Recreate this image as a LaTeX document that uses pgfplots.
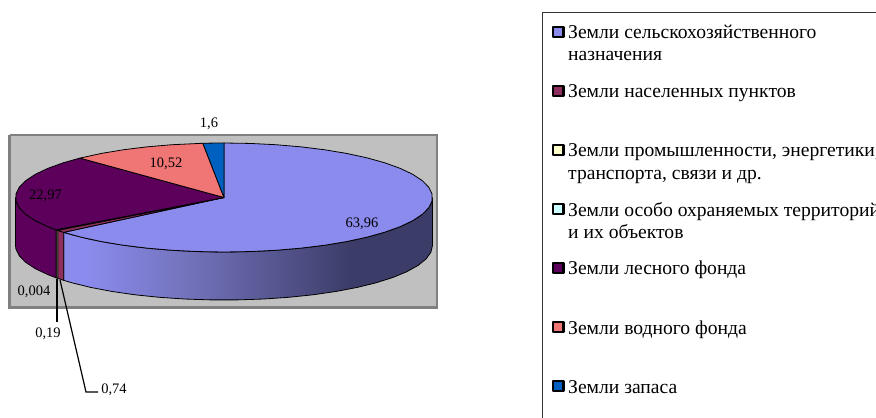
\documentclass[border=0pt]{standalone}
\usepackage{pgfplots}
\usepackage{pgfplotstable}
\usepackage{fontspec}
\setmainfont{Liberation Serif}
\pgfplotsset{compat=1.18}
\definecolor{agri}{HTML}{8B8BEE}
\definecolor{town}{HTML}{8F2F60}
\definecolor{indu}{HTML}{FFFFCC}
\definecolor{prot}{HTML}{CCFFFF}
\definecolor{wood}{HTML}{5C005C}
\definecolor{water}{HTML}{F07575}
\definecolor{resv}{HTML}{0060C0}
\definecolor{gbg}{HTML}{C0C0C0}
\definecolor{gbd}{HTML}{808080}
\definecolor{wa}{HTML}{8B8BEE}
\definecolor{wb}{HTML}{7272BB}
\definecolor{wc}{HTML}{55558F}
\definecolor{wd}{HTML}{3C3C68}
\pgfdeclarehorizontalshading{wallgrad}{100bp}{color(0bp)=(wa);color(28bp)=(wa);color(42bp)=(wb);color(54bp)=(wc);color(64bp)=(wd);color(100bp)=(wd)}
% p = cumulative percent of the pie, r = 0 centre / 1 rim, z = 0 top face / 1 bottom rim
\pgfplotstableread[row sep=\\]{p r z\\ 0 0 0\\ 0 1 0\\ 2 1 0\\ 4 1 0\\ 6 1 0\\ 8 1 0\\ 10 1 0\\ 12 1 0\\ 14 1 0\\ 16 1 0\\ 18 1 0\\ 20 1 0\\ 22 1 0\\ 24 1 0\\ 26 1 0\\ 28 1 0\\ 30 1 0\\ 32 1 0\\ 34 1 0\\ 36 1 0\\ 38 1 0\\ 40 1 0\\ 42 1 0\\ 44 1 0\\ 46 1 0\\ 48 1 0\\ 50 1 0\\ 52 1 0\\ 54 1 0\\ 56 1 0\\ 58 1 0\\ 60 1 0\\ 62 1 0\\ 63.96 1 0\\ 63.96 0 0\\ 0 0 0\\}\topA
\pgfplotstableread[row sep=\\]{p r z\\ 63.96 0 0\\ 63.96 1 0\\ 64.70 1 0\\ 64.70 0 0\\ 63.96 0 0\\}\topB
\pgfplotstableread[row sep=\\]{p r z\\ 64.70 0 0\\ 64.70 1 0\\ 64.89 1 0\\ 64.89 0 0\\ 64.70 0 0\\}\topC
\pgfplotstableread[row sep=\\]{p r z\\ 64.89 0 0\\ 64.89 1 0\\ 64.894 1 0\\ 64.894 0 0\\ 64.89 0 0\\}\topD
\pgfplotstableread[row sep=\\]{p r z\\ 64.894 0 0\\ 64.894 1 0\\ 66 1 0\\ 68 1 0\\ 70 1 0\\ 72 1 0\\ 74 1 0\\ 76 1 0\\ 78 1 0\\ 80 1 0\\ 82 1 0\\ 84 1 0\\ 86 1 0\\ 87.864 1 0\\ 87.864 0 0\\ 64.894 0 0\\}\topE
\pgfplotstableread[row sep=\\]{p r z\\ 87.864 0 0\\ 87.864 1 0\\ 90 1 0\\ 92 1 0\\ 94 1 0\\ 96 1 0\\ 98.384 1 0\\ 98.384 0 0\\ 87.864 0 0\\}\topF
\pgfplotstableread[row sep=\\]{p r z\\ 98.384 0 0\\ 98.384 1 0\\ 99 1 0\\ 100 1 0\\ 100 0 0\\ 98.384 0 0\\}\topG
\pgfplotstableread[row sep=\\]{p r z\\ 25 1 0\\ 27 1 0\\ 29 1 0\\ 31 1 0\\ 33 1 0\\ 35 1 0\\ 37 1 0\\ 39 1 0\\ 41 1 0\\ 43 1 0\\ 45 1 0\\ 47 1 0\\ 49 1 0\\ 51 1 0\\ 53 1 0\\ 55 1 0\\ 57 1 0\\ 59 1 0\\ 61 1 0\\ 63 1 0\\ 63.96 1 0\\ 63.96 1 1\\ 63 1 1\\ 61 1 1\\ 59 1 1\\ 57 1 1\\ 55 1 1\\ 53 1 1\\ 51 1 1\\ 49 1 1\\ 47 1 1\\ 45 1 1\\ 43 1 1\\ 41 1 1\\ 39 1 1\\ 37 1 1\\ 35 1 1\\ 33 1 1\\ 31 1 1\\ 29 1 1\\ 27 1 1\\ 25 1 1\\ 25 1 0\\}\wallA
\pgfplotstableread[row sep=\\]{p r z\\ 63.96 1 0\\ 64.70 1 0\\ 64.70 1 1\\ 63.96 1 1\\ 63.96 1 0\\}\wallB
\pgfplotstableread[row sep=\\]{p r z\\ 64.70 1 0\\ 64.89 1 0\\ 64.89 1 1\\ 64.70 1 1\\ 64.70 1 0\\}\wallC
\pgfplotstableread[row sep=\\]{p r z\\ 64.894 1 0\\ 66 1 0\\ 68 1 0\\ 70 1 0\\ 72 1 0\\ 74 1 0\\ 75 1 0\\ 75 1 1\\ 74 1 1\\ 72 1 1\\ 70 1 1\\ 68 1 1\\ 66 1 1\\ 64.894 1 1\\ 64.894 1 0\\}\wallE
\newcommand{\pie}[2]{\addplot[#1,draw=black,line width=0.8bp,line join=round] table[x expr={224+208.5*\thisrow{r}*sin(3.6*\thisrow{p})},y expr={197.5-54.5*\thisrow{r}*cos(3.6*\thisrow{p})+48*\thisrow{z}}] {#2};}
\newcommand{\lab}[3]{\node[anchor=base,inner sep=0pt,font=\fontsize{14.5bp}{16bp}\selectfont] at (axis cs:#1,#2) {#3};}
\newcommand{\leg}[2]{\node[anchor=base west,inner sep=0pt,font=\fontsize{19.6bp}{22bp}\selectfont] at (axis cs:568,#1) {#2};}
\newcommand{\key}[2]{\addplot[only marks,mark=square*,mark size=5.2bp,mark options={fill=#1,draw=black,line width=2.2bp,line join=round}] coordinates {(558.3,#2)};}
\begin{document}
\begin{tikzpicture}
\clip (0,0) rectangle (876bp,418bp);
\begin{axis}[at={(0,0)},anchor=south west,scale only axis,width=876bp,height=418bp,
  xmin=0,xmax=876,ymin=0,ymax=418,y dir=reverse,hide axis]
% frame of the plot area
\addplot[fill=gbg,draw=gbd,line width=2.4bp] coordinates {(9.5,135) (437,135) (437,307.5) (9.5,307.5) (9.5,135)};
% side wall
\pie{shading=wallgrad}{\wallA}
\pie{fill=town}{\wallB}
\pie{fill=indu}{\wallC}
\pie{fill=wood}{\wallE}
% top face
\pie{fill=agri}{\topA}
\pie{fill=town}{\topB}
\pie{fill=indu}{\topC}
\pie{fill=prot}{\topD}
\pie{fill=wood}{\topE}
\pie{fill=water}{\topF}
\pie{fill=resv}{\topG}
% leader lines
\addplot[black,line width=1.2bp] coordinates {(57,279) (57,322)};
\addplot[black,line width=1.2bp] coordinates {(60,280) (86,392) (98,392)};
% value labels
\lab{209}{127}{1,6}
\lab{166}{167}{10,52}
\lab{45.5}{199}{22,97}
\lab{362}{227}{63,96}
\lab{34}{295}{0,004}
\lab{48}{337}{0,19}
\lab{114}{393}{0,74}
% legend box (runs off the picture)
\addplot[black!80,line width=0.8bp] coordinates {(542.5,430) (542.5,12.5) (890,12.5)};
\key{agri}{32}
\key{town}{91}
\key{indu}{150}
\key{prot}{209}
\key{wood}{268}
\key{water}{327}
\key{resv}{386}
\leg{39}{Земли сельскохозяйственного}
\leg{61}{назначения}
\leg{97}{Земли населенных пунктов}
\leg{156}{Земли промышленности, энергетики,}
\leg{179}{транспорта, связи и др.}
\leg{216}{Земли особо охраняемых территорий}
\leg{238}{и их объектов}
\leg{274}{Земли лесного фонда}
\leg{334}{Земли водного фонда}
\leg{393}{Земли запаса}
\end{axis}
\end{tikzpicture}
\end{document}
